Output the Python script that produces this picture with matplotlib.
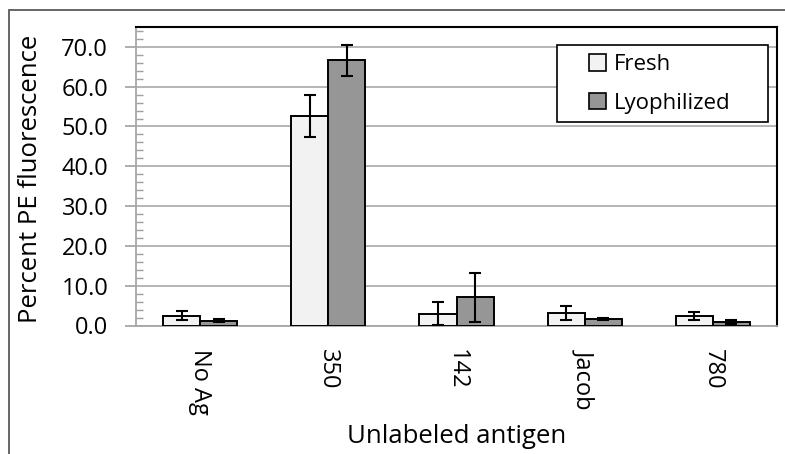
import matplotlib
matplotlib.use("Agg")
import matplotlib.pyplot as plt
from matplotlib.patches import Rectangle
from matplotlib.ticker import MultipleLocator, FormatStrFormatter
import numpy as np

categories = ["No Ag", "350", "142", "Jacob", "780"]
fresh = [2.5, 52.6, 3.0, 3.1, 2.4]
fresh_err = [1.1, 5.2, 2.8, 1.7, 1.0]
lyoph = [1.2, 66.6, 7.05, 1.6, 1.0]
lyoph_err = [0.35, 3.8, 6.15, 0.3, 0.5]
series_names = ["Fresh", "Lyophilized"]

plt.rcParams['font.family'] = ['Open Sans', 'DejaVu Sans']

W, H = 785, 454
fig = plt.figure(figsize=(W / 100, H / 100), dpi=100)

def fx(px):
    return px / W

def fy(py):
    return 1 - py / H

# outer chart border
fig.patches.append(Rectangle((fx(9), -0.1), 1.2, fy(10) + 0.1,
                             transform=fig.transFigure, fill=False,
                             edgecolor='#595959', linewidth=1.3))

L, R, T, B = 136, 777, 27, 325.5
ax = fig.add_axes([fx(L), fy(B), fx(R - L), (B - T) / H])

x = np.arange(len(categories))
bw = 0.29
ekw = dict(ecolor='black', elinewidth=1.5, capsize=4.3, capthick=1.5)
ax.bar(x - bw / 2, fresh, bw, color='#f2f2f2', edgecolor='black', linewidth=1.4,
       yerr=fresh_err, error_kw=ekw, zorder=3, label=series_names[0])
ax.bar(x + bw / 2, lyoph, bw, color='#969696', edgecolor='black', linewidth=1.4,
       yerr=lyoph_err, error_kw=ekw, zorder=3, label=series_names[1])

ax.set_xlim(-0.5, len(categories) - 0.5)
ax.set_ylim(0, 75)
ax.yaxis.set_major_locator(MultipleLocator(10))
ax.yaxis.set_minor_locator(MultipleLocator(2))
ax.yaxis.set_major_formatter(FormatStrFormatter('%.1f'))
ax.set_yticks(np.arange(0, 71, 10))
ax.grid(axis='y', which='major', color='#b0b0b0', linewidth=1.3, zorder=0)
ax.tick_params(axis='y', which='major', direction='out', length=8, width=1.2,
               color='#a0a0a0', labelsize=17, pad=12)
ax.tick_params(axis='y', which='minor', direction='in', length=5, width=1.0,
               color='#a0a0a0')
ax.set_xticks(x)
ax.set_xticklabels(categories, rotation=270, fontsize=17)
ax.tick_params(axis='x', length=0, pad=17)

for s in ['left', 'bottom']:
    ax.spines[s].set_color('#a6a6a6')
    ax.spines[s].set_linewidth(1.3)
for s in ['top', 'right']:
    ax.spines[s].set_color('black')
    ax.spines[s].set_linewidth(1.5)

ax.set_ylabel("Percent PE fluorescence", fontsize=18.5)
ax.yaxis.label.set_va('center')
ax.yaxis.label.set_ha('center')
ax.yaxis.set_label_coords((31 - L) / (R - L), (B - 178.5) / (B - T))
ax.set_xlabel("Unlabeled antigen", fontsize=18.5)
ax.xaxis.label.set_va('top')
ax.xaxis.set_label_coords(0.5, (B - 424) / (B - T))

# legend: frame drawn explicitly, entries placed inside
frame = Rectangle((fx(557), fy(122)), fx(768 - 557), (122 - 45) / H,
                  transform=fig.transFigure, facecolor='white',
                  edgecolor='black', linewidth=1.2, zorder=5, clip_on=False)
ax.add_patch(frame)
leg = ax.legend(loc='center left', bbox_to_anchor=((589 - L) / (R - L), (B - 84) / (B - T)),
                fontsize=16, frameon=False,
                handlelength=0.76, handleheight=0.76, handletextpad=0.35,
                borderpad=0, labelspacing=0.78, borderaxespad=0)
leg.set_zorder(6)
for h in leg.legend_handles:
    h.set_linewidth(1.2)

fig.savefig("out.png", dpi=100)
